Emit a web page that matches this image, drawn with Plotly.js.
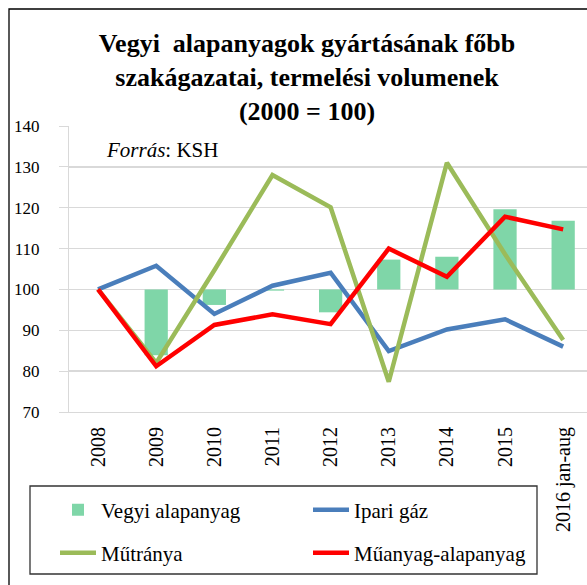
<!DOCTYPE html>
<html><head><meta charset="utf-8">
<script src="https://cdn.plot.ly/plotly-3.0.1.min.js"></script>
<style>body{margin:0;background:#fff}#c{width:587px;height:585px}</style>
</head><body><div id="c"></div>
<script>
const categories = ['2008','2009','2010','2011','2012','2013','2014','2015','2016 jan-aug'];
const vegyi = [100, 83.9, 96.2, 99.7, 94.4, 107.3, 108.0, 119.6, 116.8];
const ipariGaz = [100, 105.8, 94.0, 100.9, 104.1, 84.9, 90.2, 92.7, 86.0];
const mutranya = [100, 82.0, 104.7, 128.0, 120.1, 77.4, 131.0, 108.6, 87.6];
const muanyag = [100, 81.2, 91.3, 93.9, 91.5, 110.0, 103.1, 117.8, 114.7];
const yTicks = [70, 80, 90, 100, 110, 120, 130, 140];
const baseValue = 100;

const serif = 'Liberation Serif';
const W = 587, H = 585, L = 69, T = 126, B = 173;
const pw = W - L, ph = H - T - B;
const px = x => (x - L) / pw;
const py = y => (H - B - y) / ph;
const idx = categories.map((c,i)=>i);

const traces = [
  {type:'bar', name:'Vegyi alapanyag', x:idx, y:vegyi.map(v=>v-baseValue), base:baseValue,
   width:0.4, marker:{color:'#7fd6a8'}, legend:'legend'},
  {type:'scatter', mode:'lines', name:'Ipari gáz', x:idx, y:ipariGaz,
   line:{color:'#4a7ebb', width:4.5}, legend:'legend2'},
  {type:'scatter', mode:'lines', name:'Műtránya', x:idx, y:mutranya,
   line:{color:'#9bbb59', width:4.5}, legend:'legend3'},
  {type:'scatter', mode:'lines', name:'Műanyag-alapanyag', x:idx, y:muanyag,
   line:{color:'#ff0000', width:4.5}, legend:'legend4'}
];
traces.forEach(t=>{ t.hoverinfo='skip'; });

const legFont = {family:serif, size:21, color:'#000'};
const mkLeg = (xp, yp) => ({x:px(xp), xanchor:'left', y:py(yp), yanchor:'middle', font:legFont,
  bgcolor:'rgba(0,0,0,0)', borderwidth:0, itemwidth:36});

const xr = [-0.5, 8.41];
const layout = {
  width:W, height:H, margin:{l:L, r:0, t:T, b:B},
  paper_bgcolor:'#fff', plot_bgcolor:'#fff',
  showlegend:true,
  font:{family:serif, color:'#000'},
  title:{text:'<b>Vegyi  alapanyagok gyártásának főbb<br>szakágazatai, termelési volumenek<br>(2000 = 100)</b>',
    font:{family:serif, size:26, color:'#000'}, xref:'container', x:0.523, xanchor:'center',
    yref:'container', y:1-52/H, yanchor:'middle'},
  xaxis:{range:xr, tickvals:idx, ticktext:categories, tickangle:-90,
    showgrid:false, zeroline:false, showline:true, linecolor:'#d9d9d9', linewidth:1,
    ticks:'', tickfont:{family:serif, size:20, color:'#000'}, ticklabelstandoff:6},
  xaxis2:{overlaying:'x', anchor:'free', position:(baseValue-70)/70, range:xr,
    tickvals:idx.slice(1).map(i=>i-0.5), showticklabels:false, ticks:'outside', ticklen:5,
    tickcolor:'#d9d9d9', showline:true, linecolor:'#d9d9d9', linewidth:1.3, showgrid:false, zeroline:false, layer:'below traces'},
  yaxis:{range:[70,140], tickvals:yTicks, showgrid:true, gridcolor:'#d9d9d9', gridwidth:1.3, zeroline:false,
    showline:true, linecolor:'#d9d9d9', ticks:'outside', ticklen:9, tickcolor:'#d9d9d9',
    tickfont:{family:serif, size:17, color:'#000'}, ticklabelstandoff:16},
  legend:mkLeg(55, 510),
  legend2:mkLeg(308, 510),
  legend3:mkLeg(55, 553),
  legend4:mkLeg(308, 553),
  shapes:[
    {type:'rect', xref:'paper', yref:'paper', x0:px(9), x1:px(620), y0:py(620), y1:py(9), line:{color:'#000', width:1.3}},
    {type:'rect', xref:'paper', yref:'paper', x0:px(30), x1:px(537), y0:py(574), y1:py(486), line:{color:'#333', width:1.3}}
  ],
  annotations:[
    {text:'<i>Forrás</i>: KSH', xref:'paper', yref:'paper', x:px(104), y:py(150), xanchor:'left', yanchor:'middle',
     showarrow:false, font:{family:serif, size:21, color:'#000'}}
  ]
};
Plotly.newPlot('c', traces, layout, {displayModeBar:false, staticPlot:true});
</script></body></html>
